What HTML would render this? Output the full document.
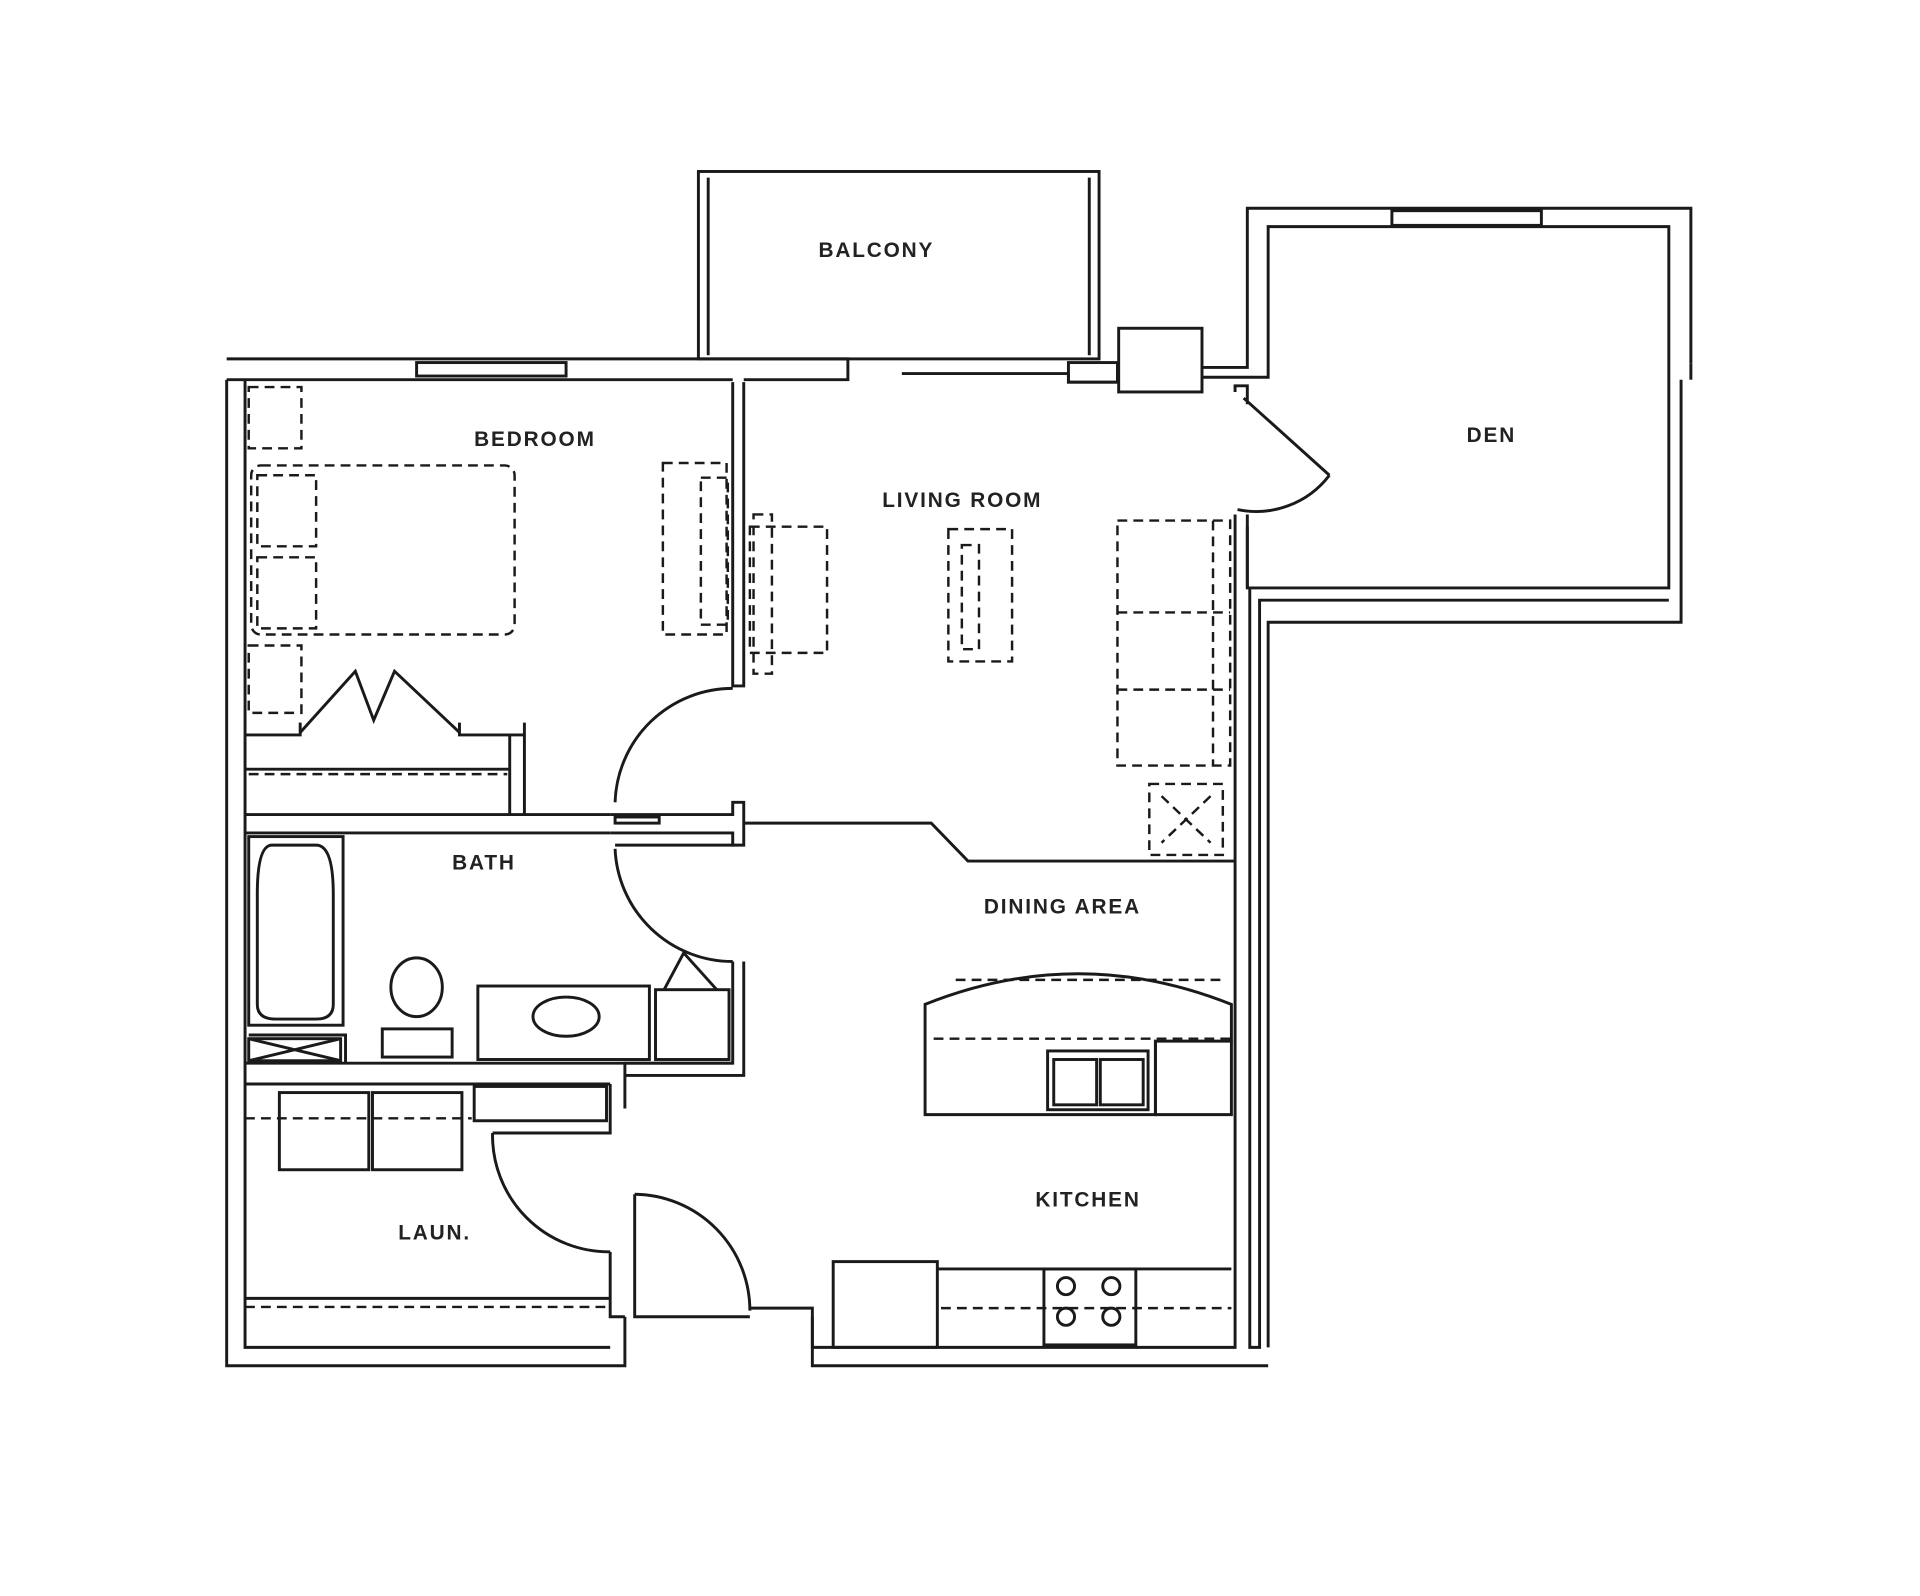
<!DOCTYPE html>
<html><head><meta charset="utf-8"><style>
html,body{margin:0;padding:0;background:#fff;width:1920px;height:1596px;overflow:hidden}
svg{display:block}
text{font-family:"Liberation Sans",sans-serif;font-weight:bold;font-size:17px;fill:#222;letter-spacing:1.5px}
</style></head><body>
<svg width="1920" height="1596" viewBox="0 0 1567 1303" preserveAspectRatio="none" xmlns="http://www.w3.org/2000/svg">
<g fill="none" stroke="#1a1a1a" stroke-width="2.4">
<rect x="570" y="140" width="327" height="153"/>
<line x1="578" y1="145" x2="578" y2="290"/><line x1="889" y1="145" x2="889" y2="290"/>
<path d="M185 293 H692 V310 H607"/>
<path d="M185 310 H598"/>
<rect x="340" y="296" width="122" height="11"/>
<path d="M185 310 V1115 H510 V1075"/>
<path d="M200 310 V1100 H498"/>
<path d="M598 312 V560 H607 V312"/>
<path d="M736 305 H872 V312 H912"/>
<rect x="872" y="296" width="40" height="16"/>
<rect x="913" y="268" width="68" height="52"/>
<path d="M981 300 H1018 V170 H1380 V297"/>
<path d="M981 308 H1035 V185 H1362 V480 H1018 V430"/>
<rect x="1136" y="172" width="122" height="12"/>
<path d="M1372 310 V508 H1035 V1100"/>
<path d="M1380 297 V310"/>
<path d="M1008 320 V315 H1018 V330"/>
<path d="M1008 420 V705"/><path d="M1018 420 V480"/>
<path d="M1020 480 V1100 H1028 V490 H1362"/>
<path d="M1015 325 L1085 388"/><path d="M1085 388 A75 75 0 0 1 1010 416"/>
<path d="M200 665 H498"/><path d="M428 590 V665"/><path d="M416 600 V665"/>
<path d="M200 600 H245 V590"/><path d="M375 590 V600 H428"/>
<path d="M245 598 L290 548 L305 588 L322 548 L375 598"/>
<path d="M200 628 H416"/><path d="M200 680 H498"/>
<path d="M498 665 H598 V655 H607 V690 H598 V680 H498"/>
<rect x="502" y="667" width="36" height="5"/>
<path d="M607 672 H760 L790 703 H1008"/>
<path d="M502 655 A96 96 0 0 1 598 562"/>
<path d="M502 693 A96 96 0 0 0 598 785"/>
<path d="M502 690 H598"/>
<path d="M598 785 V868 H510 V905"/><path d="M607 785 V878 H510"/>
<path d="M498 885 H200"/><path d="M200 868 H598"/>
<rect x="203" y="683" width="77" height="154"/>
<path d="M222 690 Q210 690 210 730 V820 Q210 832 225 832 H258 Q272 832 272 820 V730 Q272 690 258 690 Z"/>
<path d="M203 845 H282 V868"/><rect x="203" y="848" width="75" height="18"/><path d="M203 848 L278 866 M278 848 L203 866"/>
<ellipse cx="340" cy="806" rx="21" ry="24"/><rect x="312" y="840" width="57" height="23"/>
<rect x="390" y="805" width="140" height="60"/><ellipse cx="462" cy="830" rx="27" ry="16"/>
<rect x="535" y="808" width="60" height="57"/><path d="M542 808 L558 778 L585 808"/>
<rect x="228" y="892" width="73" height="63"/><rect x="304" y="892" width="73" height="63"/>
<rect x="387" y="887" width="108" height="28"/>
<path d="M498 885 V925 H402"/><path d="M402 925 A95 95 0 0 0 498 1022"/>
<path d="M498 1022 V1075 H510"/><path d="M200 1060 H498"/>
<path d="M518 975 V1075 H612"/><path d="M518 975 A95 95 0 0 1 612 1070"/>
<path d="M612 1068 H663 V1115 H1035"/><path d="M663 1075 V1100 H1008 V705"/>
<rect x="680" y="1030" width="85" height="70"/><path d="M765 1036 H1005"/>
<rect x="852" y="1036" width="75" height="62"/>
<circle cx="870" cy="1050" r="7"/><circle cx="907" cy="1050" r="7"/><circle cx="870" cy="1075" r="7"/><circle cx="907" cy="1075" r="7"/>
<path d="M755 910 V820 Q880 770 1005 820 V850 H943 V910 Z"/><path d="M943 850 V910 H1005 V850"/>
<rect x="855" y="858" width="82" height="48"/><rect x="860" y="865" width="35" height="37"/><rect x="898" y="865" width="35" height="37"/>
</g>
<g fill="none" stroke="#1a1a1a" stroke-width="2" stroke-dasharray="8,5">
<rect x="203" y="316" width="43" height="50"/><rect x="205" y="380" width="215" height="138" rx="8"/>
<rect x="210" y="388" width="48" height="58"/><rect x="210" y="455" width="48" height="58"/>
<rect x="203" y="527" width="43" height="55"/>
<rect x="541" y="378" width="52" height="140"/><rect x="572" y="390" width="22" height="120"/>
<rect x="612" y="430" width="63" height="103"/><rect x="615" y="420" width="15" height="130"/>
<rect x="774" y="432" width="52" height="108"/><rect x="785" y="445" width="14" height="85"/>
<rect x="912" y="425" width="92" height="200"/><line x1="912" y1="500" x2="1004" y2="500"/><line x1="912" y1="563" x2="1004" y2="563"/><line x1="990" y1="425" x2="990" y2="625"/>
<rect x="938" y="640" width="60" height="58"/><path d="M948 650 L988 688 M988 650 L948 688"/>
<line x1="200" y1="1067" x2="498" y2="1067"/><line x1="200" y1="913" x2="385" y2="913"/>
<line x1="203" y1="632" x2="414" y2="632"/>
<line x1="762" y1="848" x2="1005" y2="848"/><line x1="768" y1="1068" x2="1005" y2="1068"/>
<path d="M780 800 L1000 800"/>
</g>
<text x="668" y="210">BALCONY</text>
<text x="387" y="364">BEDROOM</text>
<text x="720" y="414">LIVING ROOM</text>
<text x="1197" y="361">DEN</text>
<text x="369" y="710">BATH</text>
<text x="803" y="746">DINING AREA</text>
<text x="845" y="985">KITCHEN</text>
<text x="325" y="1012">LAUN.</text>
</svg>
</body></html>
